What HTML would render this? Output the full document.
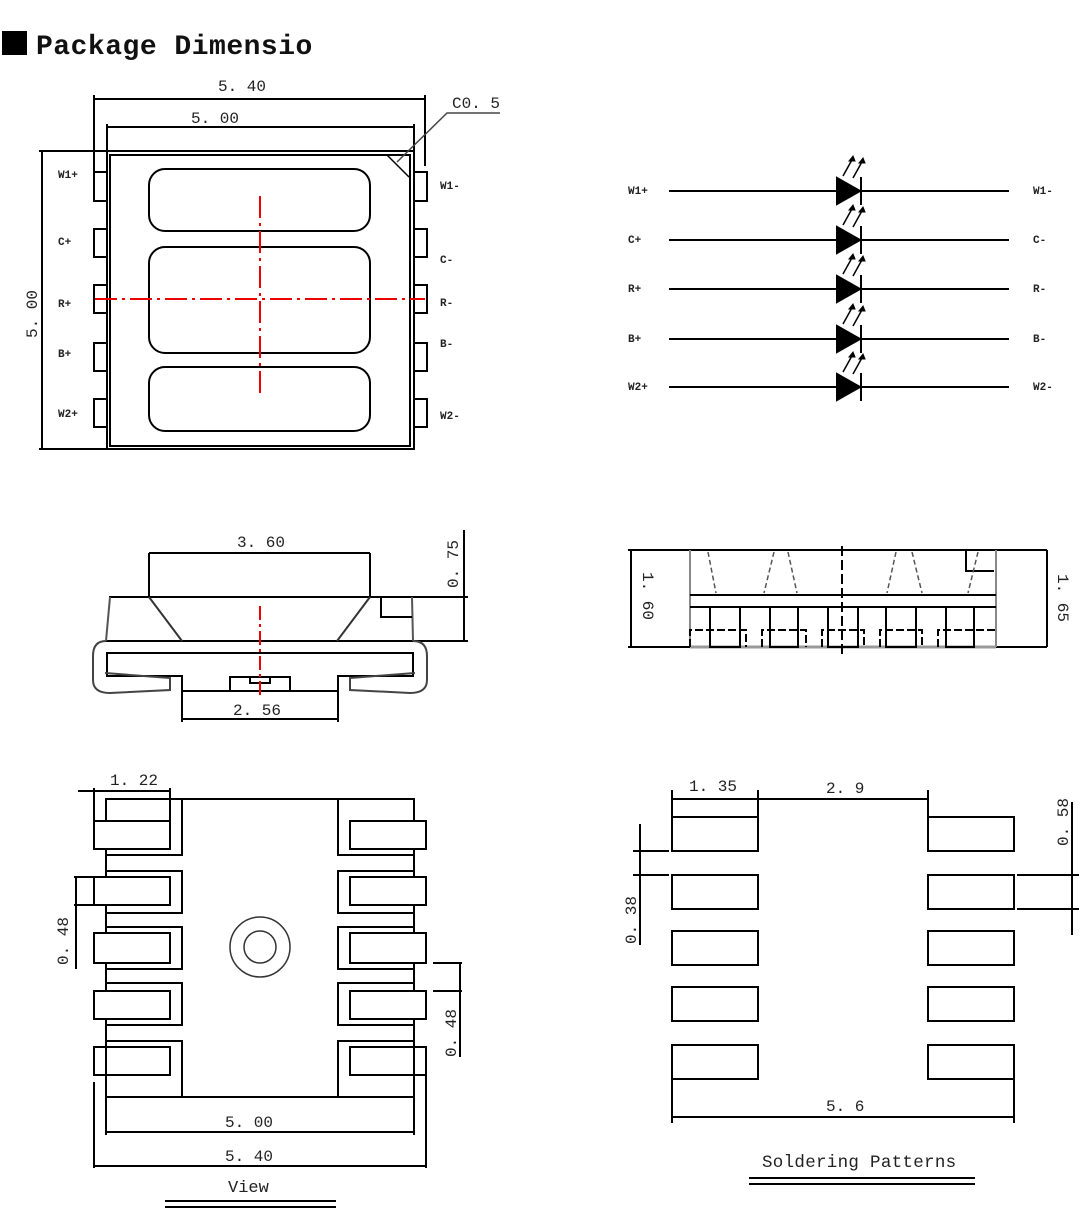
<!DOCTYPE html>
<html><head><meta charset="utf-8"><style>
html,body{margin:0;padding:0;background:#fff}
svg{display:block}
text{font-family:"Liberation Mono",monospace;fill:#222}
.t{font-size:16px}
.s{font-size:11px;font-weight:bold}
</style></head><body>
<svg width="1090" height="1228" viewBox="0 0 1090 1228" xmlns="http://www.w3.org/2000/svg">
<rect x="2" y="31" width="25" height="24" fill="#000"/>
<text x="36" y="54" style="font-family:'Liberation Mono',monospace;font-size:28px;letter-spacing:0.5px;font-weight:bold;fill:#111">Package Dimensio</text>

<!-- TOP VIEW -->
<g fill="none" stroke="#000" stroke-width="2">
<rect x="107" y="151" width="307" height="298"/>
<rect x="110" y="155" width="300" height="291"/>
<rect x="94" y="172" width="13" height="29"/><rect x="94" y="229" width="13" height="28"/><rect x="94" y="285" width="13" height="28"/><rect x="94" y="343" width="13" height="28"/><rect x="94" y="399" width="13" height="28"/>
<rect x="414" y="172" width="13" height="29"/><rect x="414" y="229" width="13" height="28"/><rect x="414" y="285" width="13" height="28"/><rect x="414" y="343" width="13" height="28"/><rect x="414" y="399" width="13" height="28"/>
<rect x="149" y="169" width="221" height="62" rx="16"/>
<rect x="149" y="247" width="221" height="106" rx="16"/>
<rect x="149" y="367" width="221" height="64" rx="16"/>
<line x1="94" y1="99" x2="425" y2="99"/>
<line x1="94" y1="95" x2="94" y2="172"/><line x1="425" y1="95" x2="425" y2="166"/>
<line x1="107" y1="127" x2="414" y2="127"/>
<line x1="107" y1="124" x2="107" y2="151"/><line x1="414" y1="124" x2="414" y2="151"/>
<line x1="42" y1="151" x2="42" y2="449"/>
<line x1="39" y1="151" x2="107" y2="151"/><line x1="39" y1="449" x2="107" y2="449"/>
<line x1="387" y1="155" x2="409" y2="177" stroke-width="1.5"/>
<polyline points="397,162 447,113 500,113" stroke-width="1.5" stroke="#444"/>
</g>
<g stroke="#e00" stroke-width="2" fill="none" stroke-dasharray="22,5,3,5">
<line x1="95" y1="299" x2="425" y2="299"/>
<line x1="260" y1="196" x2="260" y2="393"/>
</g>
<text class="t" x="218" y="91">5. 40</text>
<text class="t" x="191" y="123">5. 00</text>
<text class="t" x="452" y="108">C0. 5</text>
<text class="t" transform="translate(37,338) rotate(-90)">5. 00</text>
<text class="s" x="58" y="178">W1+</text><text class="s" x="58" y="245">C+</text><text class="s" x="58" y="307">R+</text><text class="s" x="58" y="357">B+</text><text class="s" x="58" y="417">W2+</text>
<text class="s" x="440" y="189">W1-</text><text class="s" x="440" y="263">C-</text><text class="s" x="440" y="306">R-</text><text class="s" x="440" y="347">B-</text><text class="s" x="440" y="419">W2-</text>

<!-- SCHEMATIC -->
<g stroke="#000" stroke-width="2" fill="none">
<g id="row">
<line x1="669" y1="191" x2="1009" y2="191"/>
<polygon points="837,178 837,204 860,191" fill="#000"/>
<line x1="861" y1="177" x2="861" y2="205"/>
<line x1="843" y1="176" x2="853" y2="158" stroke-width="1.5"/>
<line x1="853" y1="178" x2="863" y2="160" stroke-width="1.5"/>
<polygon points="853,156 849,161 855,161" fill="#000" stroke-width="1"/>
<polygon points="863,158 859,163 865,163" fill="#000" stroke-width="1"/>
</g>
<use href="#row" y="49"/><use href="#row" y="98"/><use href="#row" y="148"/><use href="#row" y="196"/>
</g>
<text class="s" x="628" y="194">W1+</text><text class="s" x="628" y="243">C+</text><text class="s" x="628" y="292">R+</text><text class="s" x="628" y="342">B+</text><text class="s" x="628" y="390">W2+</text>
<text class="s" x="1033" y="194">W1-</text><text class="s" x="1033" y="243">C-</text><text class="s" x="1033" y="292">R-</text><text class="s" x="1033" y="342">B-</text><text class="s" x="1033" y="390">W2-</text>

<!-- SIDE VIEW -->
<g stroke="#000" stroke-width="2" fill="none">
<line x1="149" y1="553" x2="370" y2="553"/>
<line x1="149" y1="553" x2="149" y2="597"/><line x1="370" y1="553" x2="370" y2="597"/>
<line x1="109" y1="597" x2="468" y2="597"/>
<line x1="106" y1="641" x2="468" y2="641"/>
<line x1="110" y1="597" x2="106" y2="641" stroke="#555"/>
<line x1="412" y1="597" x2="413" y2="641" stroke="#555"/>
<line x1="149" y1="597" x2="182" y2="641" stroke="#333"/>
<line x1="370" y1="597" x2="337" y2="641" stroke="#333"/>
<polyline points="381,597 381,617 412,617"/>
<line x1="464" y1="530" x2="464" y2="641"/>
<polyline points="182,722 182,676 107,676 107,653 413,653 413,676 338,676 338,722"/>
<line x1="182" y1="691" x2="338" y2="691"/>
<rect x="230" y="677" width="60" height="14"/>
<rect x="250" y="677" width="20" height="6"/>
<line x1="182" y1="719" x2="338" y2="719"/>
<path d="M106,641 Q93,641 93,656 L93,680 Q93,693 110,693 L170,690 L170,678 L105,673" stroke="#444"/>
<path d="M413,641 Q427,641 427,656 L427,680 Q427,693 410,693 L350,690 L350,678 L415,673" stroke="#444"/>
</g>
<line x1="260" y1="606" x2="260" y2="697" stroke="#e00" stroke-width="2" stroke-dasharray="14,4,3,4"/>
<text class="t" x="237" y="547">3. 60</text>
<text class="t" x="233" y="715">2. 56</text>
<text class="t" transform="translate(458,588) rotate(-90)">0. 75</text>

<!-- RIGHT SIDE VIEW -->
<g stroke="#000" stroke-width="2" fill="none">
<line x1="628" y1="550" x2="1047" y2="550"/>
<line x1="628" y1="647" x2="690" y2="647"/>
<line x1="996" y1="647" x2="1047" y2="647"/>
<line x1="631" y1="550" x2="631" y2="647"/>
<line x1="1047" y1="550" x2="1047" y2="647"/>
<line x1="690" y1="550" x2="690" y2="647" stroke="#888"/>
<line x1="996" y1="550" x2="996" y2="647" stroke="#888"/>
<line x1="690" y1="595" x2="996" y2="595"/>
<line x1="690" y1="607" x2="996" y2="607"/>
<line x1="690" y1="647" x2="996" y2="647" stroke="#999" stroke-width="3"/>
<polyline points="966,550 966,571 994,571"/>
<rect x="710" y="607" width="30" height="40"/><rect x="770" y="607" width="28" height="40"/><rect x="828" y="607" width="30" height="40"/><rect x="886" y="607" width="30" height="40"/><rect x="946" y="607" width="28" height="40"/>
<g stroke-dasharray="8,3">
<polyline points="690,647 690,630 746,630 746,647"/>
<polyline points="762,647 762,630 806,630 806,647"/>
<polyline points="822,647 822,630 864,630 864,647"/>
<polyline points="880,647 880,630 922,630 922,647"/>
<polyline points="938,647 938,630 996,630"/>
</g>
<g stroke="#555" stroke-width="1.5" stroke-dasharray="5,3">
<line x1="708" y1="552" x2="716" y2="593"/><line x1="774" y1="552" x2="764" y2="593"/><line x1="788" y1="552" x2="797" y2="593"/>
<line x1="896" y1="552" x2="887" y2="593"/><line x1="912" y1="552" x2="922" y2="593"/><line x1="978" y1="552" x2="968" y2="593"/>
</g>
<line x1="842" y1="546" x2="842" y2="657" stroke-dasharray="10,4"/>
</g>
<text class="t" transform="translate(643,572) rotate(90)">1. 60</text>
<text class="t" transform="translate(1058,574) rotate(90)">1. 65</text>

<!-- BOTTOM VIEW -->
<g stroke="#000" stroke-width="2" fill="none">
<line x1="182" y1="799" x2="338" y2="799"/>
<line x1="106" y1="1097" x2="414" y2="1097"/>
<line x1="106" y1="1041" x2="106" y2="1135"/>
<line x1="414" y1="1041" x2="414" y2="1135"/>
<g id="pl">
<polyline points="106,821 106,799 182,799 182,855 106,855 106,849"/>
<polyline points="106,877 106,871 182,871 182,913 106,913 106,905"/>
<polyline points="106,933 106,927 182,927 182,969 106,969 106,963"/>
<polyline points="106,991 106,983 182,983 182,1025 106,1025 106,1019"/>
<polyline points="106,1047 106,1041 182,1041 182,1097"/>
<line x1="106" y1="855" x2="106" y2="871"/><line x1="106" y1="913" x2="106" y2="927"/><line x1="106" y1="969" x2="106" y2="983"/><line x1="106" y1="1025" x2="106" y2="1041"/>
</g>
<g transform="translate(520,0) scale(-1,1)"><use href="#pl"/></g>
<rect x="94" y="821" width="76" height="28"/><rect x="94" y="877" width="76" height="28"/><rect x="94" y="933" width="76" height="30"/><rect x="94" y="991" width="76" height="28"/><rect x="94" y="1047" width="76" height="28"/>
<rect x="350" y="821" width="76" height="28"/><rect x="350" y="877" width="76" height="28"/><rect x="350" y="933" width="76" height="30"/><rect x="350" y="991" width="76" height="28"/><rect x="350" y="1047" width="76" height="28"/>
<circle cx="260" cy="947" r="30" stroke="#333" stroke-width="1.5"/>
<circle cx="260" cy="947" r="16" stroke="#333" stroke-width="1.5"/>
<line x1="78" y1="791" x2="170" y2="791"/>
<line x1="94" y1="788" x2="94" y2="821"/><line x1="170" y1="788" x2="170" y2="821"/>
<line x1="74" y1="877" x2="94" y2="877"/><line x1="74" y1="905" x2="94" y2="905"/>
<line x1="76" y1="877" x2="76" y2="969"/>
<line x1="433" y1="963" x2="462" y2="963"/><line x1="433" y1="991" x2="462" y2="991"/>
<line x1="460" y1="963" x2="460" y2="1057"/>
<line x1="106" y1="1132" x2="414" y2="1132"/>
<line x1="94" y1="1166" x2="426" y2="1166"/>
<line x1="94" y1="1082" x2="94" y2="1168"/><line x1="426" y1="1075" x2="426" y2="1168"/>
<line x1="165" y1="1201" x2="336" y2="1201"/><line x1="165" y1="1207" x2="336" y2="1207"/>
</g>
<text class="t" x="110" y="785">1. 22</text>
<text class="t" transform="translate(68,965) rotate(-90)">0. 48</text>
<text class="t" transform="translate(456,1057) rotate(-90)">0. 48</text>
<text class="t" x="225" y="1127">5. 00</text>
<text class="t" x="225" y="1161">5. 40</text>
<text class="t" x="228" y="1192" style="font-size:17px">View</text>

<!-- SOLDERING -->
<g stroke="#000" stroke-width="2" fill="none">
<rect x="672" y="817" width="86" height="34"/><rect x="672" y="875" width="86" height="34"/><rect x="672" y="931" width="86" height="34"/><rect x="672" y="987" width="86" height="34"/><rect x="672" y="1045" width="86" height="34"/>
<rect x="928" y="817" width="86" height="34"/><rect x="928" y="875" width="86" height="34"/><rect x="928" y="931" width="86" height="34"/><rect x="928" y="987" width="86" height="34"/><rect x="928" y="1045" width="86" height="34"/>
<line x1="672" y1="799" x2="928" y2="799"/>
<line x1="672" y1="790" x2="672" y2="817"/><line x1="758" y1="790" x2="758" y2="817"/><line x1="928" y1="790" x2="928" y2="817"/>
<line x1="672" y1="1117" x2="1014" y2="1117"/>
<line x1="672" y1="1079" x2="672" y2="1123"/><line x1="1014" y1="1079" x2="1014" y2="1123"/>
<line x1="633" y1="851" x2="669" y2="851"/><line x1="633" y1="875" x2="669" y2="875"/>
<line x1="640" y1="824" x2="640" y2="945"/>
<line x1="1017" y1="875" x2="1079" y2="875"/><line x1="1017" y1="909" x2="1079" y2="909"/>
<line x1="1072" y1="802" x2="1072" y2="935"/>
<line x1="749" y1="1178" x2="975" y2="1178"/><line x1="749" y1="1184" x2="975" y2="1184"/>
</g>
<text class="t" x="689" y="791">1. 35</text>
<text class="t" x="826" y="793">2. 9</text>
<text class="t" x="826" y="1111">5. 6</text>
<text class="t" transform="translate(636,944) rotate(-90)">0. 38</text>
<text class="t" transform="translate(1068,846) rotate(-90)">0. 58</text>
<text class="t" x="762" y="1167" style="font-size:17.5px;letter-spacing:0.3px">Soldering Patterns</text>
</svg>
</body></html>
